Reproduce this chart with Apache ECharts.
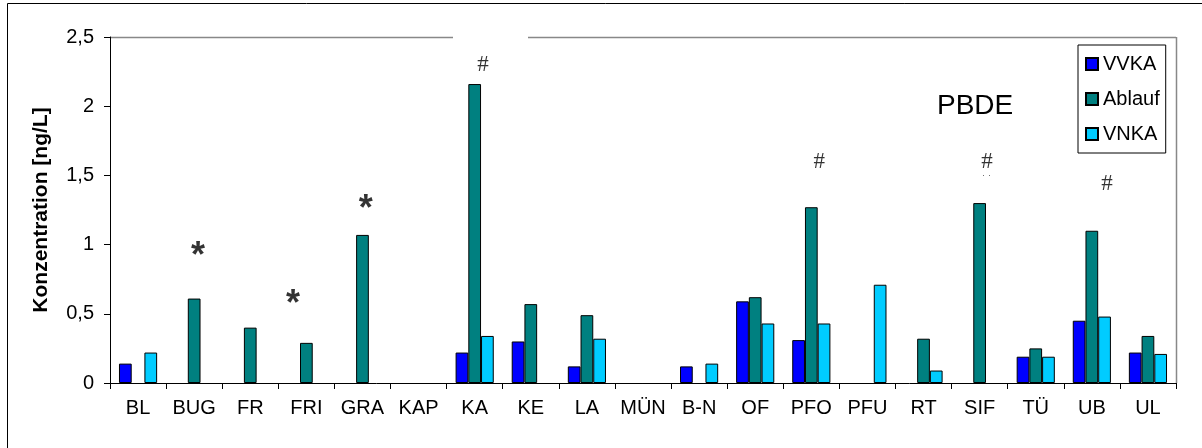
<!DOCTYPE html>
<html>
<head>
<meta charset="utf-8">
<script src="https://cdn.jsdelivr.net/npm/echarts@6/dist/echarts.min.js"></script>
<style>
html,body{margin:0;padding:0;background:#fff;}
#chart{width:1202px;height:448px;}
</style>
</head>
<body>
<div id="chart"></div>
<script>
const categories = ['BL','BUG','FR','FRI','GRA','KAP','KA','KE','LA','MÜN','B-N','OF','PFO','PFU','RT','SIF','TÜ','UB','UL'];
const vvka   = [0.14, null, null, null, null, null, 0.22, 0.30, 0.12, null, 0.12, 0.59, 0.31, null, null, null, 0.19, 0.45, 0.22];
const ablauf = [null, 0.61, 0.40, 0.29, 1.07, null, 2.16, 0.57, 0.49, null, null, 0.62, 1.27, null, 0.32, 1.30, 0.25, 1.10, 0.34];
const vnka   = [0.22, null, null, null, null, null, 0.34, null, 0.32, null, 0.14, 0.43, 0.43, 0.71, 0.09, null, 0.19, 0.48, 0.21];

// annotation marks (category-unit x, value y)
const annoText = ['*', '*', '*', '#', '#', '#', '#', '\u02D9 \u02D9'];
const annoX    = [1.57, 3.26, 4.56, 6.65, 12.64, 15.63, 17.77, 15.63];
const annoY    = [0.91, 0.56, 1.25, 2.30, 1.60, 1.60, 1.44, 1.467];

const FONT = '"Liberation Sans", Arial, sans-serif';
const G = {left: 110, right: 26, top: 37, bottom: 65};
const W = 1202, H = 448;
const plotRight = W - G.right, plotBottom = H - G.bottom;

const chart = echarts.init(document.getElementById('chart'), null, {renderer: 'canvas'});

const annoData = annoText.map((t, i) => ({
  value: [annoX[i], annoY[i]],
  label: t === '*' ? {fontFamily: FONT, fontWeight: 'bold', fontSize: 36, color: '#000'}
       : t === '#' ? {fontFamily: '"Liberation Serif", "Times New Roman", serif', fontSize: 23, color: '#000'}
       : {fontFamily: FONT, fontSize: 10, color: '#333'}
}));

const barStyle = c => ({color: c, borderColor: '#000', borderWidth: 1});

chart.setOption({
  animation: false,
  backgroundColor: '#fff',
  grid: {left: G.left, right: G.right, top: G.top, bottom: G.bottom, containLabel: false},
  title: {
    text: 'PBDE', left: 932, top: 87,
    textStyle: {fontFamily: FONT, fontSize: 28, fontWeight: 'normal', color: '#000'}
  },
  legend: {
    orient: 'vertical', left: 1078, top: 45,
    padding: [9, 6, 9, 7],
    itemWidth: 12, itemHeight: 12, itemGap: 15, itemTextGap: 6,
    borderColor: '#000', borderWidth: 1, backgroundColor: '#fff',
    icon: 'rect',
    textStyle: {fontFamily: FONT, fontSize: 20, color: '#000', lineHeight: 18},
    data: ['VVKA', 'Ablauf', 'VNKA']
  },
  xAxis: [{
    type: 'category', data: categories,
    axisLine: {lineStyle: {color: '#000', width: 1}},
    axisTick: {show: true, length: 6, lineStyle: {color: '#000'}},
    axisLabel: {fontFamily: FONT, fontSize: 20, color: '#000', margin: 15, interval: 0}
  }, {
    type: 'value', min: 0, max: categories.length, show: false
  }],
  yAxis: {
    type: 'value', min: 0, max: 2.5, interval: 0.5,
    name: 'Konzentration [ng/L]', nameLocation: 'middle', nameGap: 58,
    nameTextStyle: {fontFamily: FONT, fontSize: 21, fontWeight: 'bold', color: '#000'},
    axisLine: {show: true, lineStyle: {color: '#000', width: 1}},
    axisTick: {show: true, length: 6, lineStyle: {color: '#000'}},
    splitLine: {show: false},
    axisLabel: {
      fontFamily: FONT, fontSize: 20, color: '#000', margin: 16,
      formatter: v => String(v).replace('.', ',')
    }
  },
  series: [
    {name: 'VVKA', type: 'bar', data: vvka, itemStyle: barStyle('#0000FF'), barGap: '0%', barCategoryGap: '32%'},
    {name: 'Ablauf', type: 'bar', data: ablauf, itemStyle: barStyle('#008080'), barGap: '0%', barCategoryGap: '32%'},
    {name: 'VNKA', type: 'bar', data: vnka, itemStyle: barStyle('#00CCFF'), barGap: '0%', barCategoryGap: '32%'},
    {
      type: 'scatter', xAxisIndex: 1, yAxisIndex: 0, symbolSize: 1,
      itemStyle: {color: 'rgba(0,0,0,0)'},
      label: {show: true, position: 'inside', formatter: p => annoText[p.dataIndex]},
      data: annoData, silent: true, z: 5
    }
  ],
  graphic: [
    {type: 'rect', shape: {x: 7.5, y: 3.5, width: 1300, height: 600}, style: {fill: null, stroke: '#000', lineWidth: 1}, silent: true, z: 0},
    {type: 'line', shape: {x1: G.left, y1: G.top + 0.5, x2: 453, y2: G.top + 0.5}, style: {stroke: '#888', lineWidth: 1.5}, silent: true},
    {type: 'line', shape: {x1: 528, y1: G.top + 0.5, x2: plotRight, y2: G.top + 0.5}, style: {stroke: '#888', lineWidth: 1.5}, silent: true},
    {type: 'line', shape: {x1: plotRight + 0.5, y1: G.top, x2: plotRight + 0.5, y2: plotBottom}, style: {stroke: '#888', lineWidth: 1.5}, silent: true}
  ]
});
</script>
</body>
</html>
